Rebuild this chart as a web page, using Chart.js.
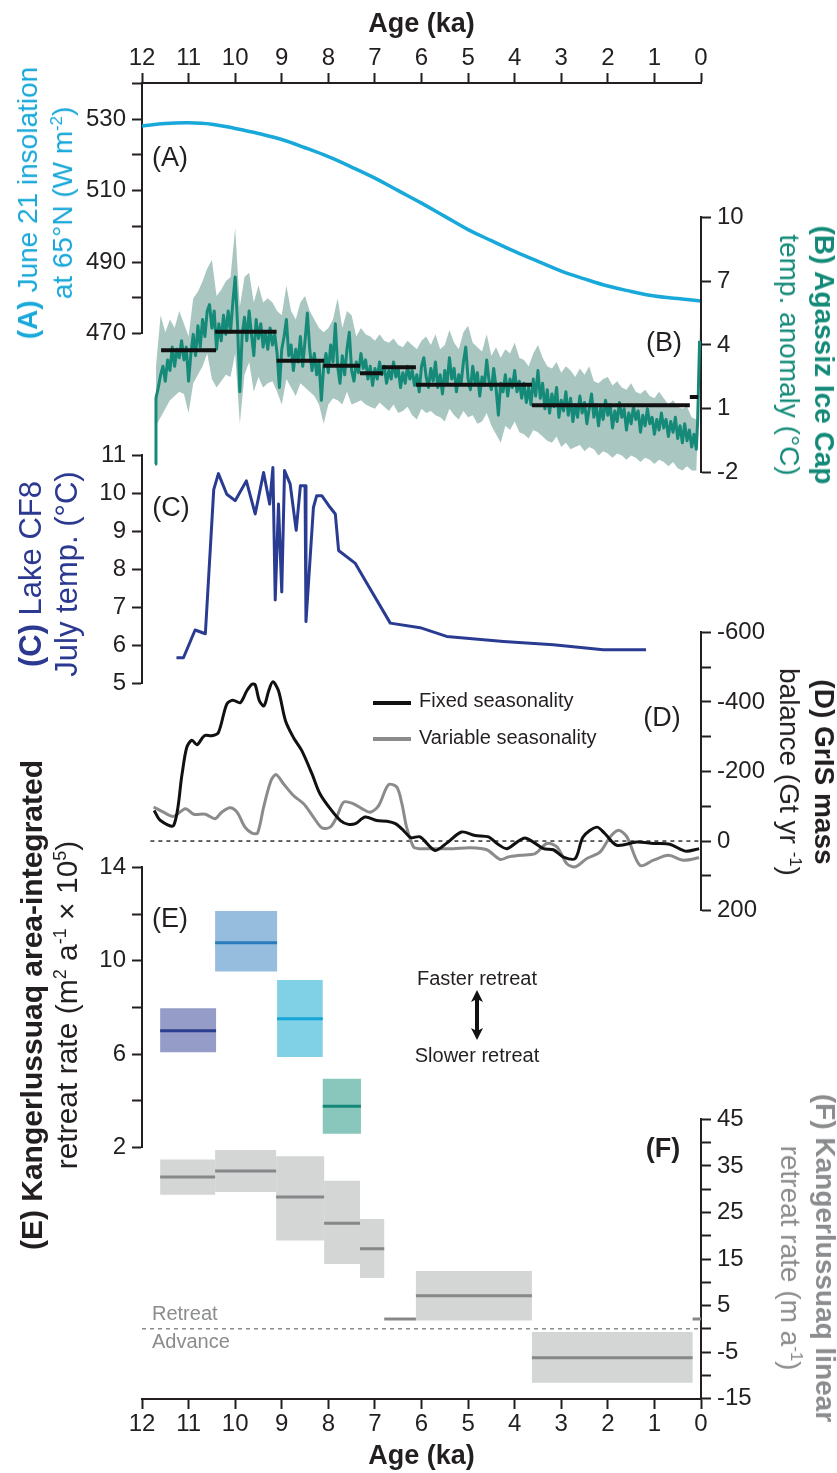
<!DOCTYPE html>
<html>
<head>
<meta charset="utf-8">
<script src="https://cdn.jsdelivr.net/npm/chart.js@4.4.1/dist/chart.umd.min.js"></script>
<style>
html, body { margin: 0; padding: 0; background: #fff; }
#wrap { position: relative; width: 837px; height: 1473px; overflow: hidden; font-family: "Liberation Sans", Arial, Helvetica, sans-serif; color: #231f20; }
#wrap canvas { position: absolute; left: 0; }
.t { position: absolute; white-space: nowrap; text-align: center; font-size: 28px; line-height: 35px; }
.t.l { transform: translate(-50%, -50%) rotate(-90deg); }
.t.r { transform: translate(-50%, -50%) rotate(90deg); }
.t sup, .note sup { font-size: 60%; line-height: 0; }
.lab { position: absolute; font-size: 27px; line-height: 1; transform: translate(-50%, -50%); white-space: nowrap; }
.note { position: absolute; font-size: 20px; line-height: 1; white-space: nowrap; }
.key { position: absolute; height: 4px; width: 38px; left: 373px; }
</style>
</head>
<body>
<div id="wrap">
	<canvas id="cFrame"></canvas>
	<canvas id="cA"></canvas>
	<canvas id="cB"></canvas>
	<canvas id="cC"></canvas>
	<canvas id="cD"></canvas>
	<canvas id="cE"></canvas>
	<canvas id="cF"></canvas>

	<div class="t l" style="left:45px;top:203px;color:#18a8d9"><b>(A)</b> June 21 insolation<br>at 65°N (W m<sup>-2</sup>)</div>
	<div class="t r" style="left:807px;top:355px;color:#138a78"><b>(B) Agassiz Ice Cap</b><br>temp. anomaly (°C)</div>
	<div class="t l" style="left:49px;top:574px;color:#2b3990;font-size:31px;line-height:36px"><b>(C)</b> Lake CF8<br>July temp. (°C)</div>
	<div class="t r" style="left:807px;top:772px"><b>(D) GrIS mass</b><br>balance (Gt yr <sup>-1</sup>)</div>
	<div class="t l" style="left:49px;top:1005px;font-size:30px"><b>(E) Kangerlussuaq area-integrated</b><br>retreat rate (m<sup>2</sup> a<sup>-1</sup> × 10<sup>5</sup>)</div>
	<div class="t r" style="left:808px;top:1258px;color:#8a8c8e"><b>(F) Kangerlussuaq linear</b><br>retreat rate (m a<sup>-1</sup>)</div>

	<div class="lab" style="left:170px;top:157px">(A)</div>
	<div class="lab" style="left:664px;top:342px">(B)</div>
	<div class="lab" style="left:171px;top:507px">(C)</div>
	<div class="lab" style="left:662px;top:717px">(D)</div>
	<div class="lab" style="left:170px;top:918px">(E)</div>
	<div class="lab" style="left:663px;top:1148px"><b>(F)</b></div>

	<div class="key" style="top:701px;background:#111"></div>
	<div class="key" style="top:737px;background:#8b8b8b"></div>
	<div class="note" style="left:419px;top:690px">Fixed seasonality</div>
	<div class="note" style="left:419px;top:727px">Variable seasonality</div>

	<div class="note" style="left:477px;top:978px;transform:translate(-50%,-50%)">Faster retreat</div>
	<div class="note" style="left:477px;top:1055px;transform:translate(-50%,-50%)">Slower retreat</div>
	<svg style="position:absolute;left:467px;top:990px" width="20" height="50">
		<line x1="10" y1="8" x2="10" y2="42" stroke="#111" stroke-width="4"/>
		<path d="M10 0 L16 12 L10 9 L4 12 Z" fill="#111"/>
		<path d="M10 50 L16 38 L10 41 L4 38 Z" fill="#111"/>
	</svg>

	<div class="note" style="left:152px;top:1303px;color:#8a8c8e">Retreat</div>
	<div class="note" style="left:152px;top:1331px;color:#8a8c8e">Advance</div>
</div>

<script>
// ---- (A) June 21 insolation at 65N ----
const insAge = [12, 11.5, 11, 10.5, 10, 9.5, 9, 8.5, 8, 7.5, 7, 6.5, 6, 5.5, 5, 4.5, 4, 3.5, 3, 2.5, 2, 1.5, 1, 0.5, 0];
const insVal = [528.1, 528.8, 529.0, 528.6, 527.4, 526.0, 524.3, 522.0, 519.5, 516.6, 513.5, 510.0, 506.5, 502.8, 499.1, 496.0, 493.0, 490.2, 487.5, 485.3, 483.3, 481.8, 480.5, 479.8, 479.1];

// ---- (B) Agassiz Ice Cap temperature anomaly ----
const bAge = [11.72, 11.70, 11.65, 11.60, 11.55, 11.50, 11.45, 11.40, 11.35, 11.30, 11.25, 11.20, 11.15, 11.10, 11.05, 11.00,
	10.95, 10.90, 10.85, 10.80, 10.75, 10.70, 10.65, 10.60, 10.55, 10.50, 10.45, 10.40, 10.35, 10.30, 10.25, 10.20, 10.15, 10.10, 10.05, 10.00,
	9.95, 9.90, 9.85, 9.80, 9.75, 9.70, 9.65, 9.60, 9.55, 9.50, 9.45, 9.40, 9.35, 9.30, 9.25, 9.20, 9.15, 9.10, 9.05, 9.00,
	8.95, 8.90, 8.85, 8.80, 8.75, 8.70, 8.65, 8.60, 8.55, 8.50, 8.45, 8.40, 8.35, 8.30, 8.25, 8.20, 8.15, 8.10, 8.05, 8.00,
	7.95, 7.90, 7.85, 7.80, 7.75, 7.70, 7.65, 7.60, 7.55, 7.50, 7.45, 7.40, 7.35, 7.30, 7.25, 7.20, 7.15, 7.10, 7.05, 7.00,
	6.95, 6.90, 6.85, 6.80, 6.75, 6.70, 6.65, 6.60, 6.55, 6.50, 6.45, 6.40, 6.35, 6.30, 6.25, 6.20, 6.15, 6.10, 6.05, 6.00,
	5.95, 5.90, 5.85, 5.80, 5.75, 5.70, 5.65, 5.60, 5.55, 5.50, 5.45, 5.40, 5.35, 5.30, 5.25, 5.20, 5.15, 5.10, 5.05, 5.00,
	4.95, 4.90, 4.85, 4.80, 4.75, 4.70, 4.65, 4.60, 4.55, 4.50, 4.45, 4.40, 4.35, 4.30, 4.25, 4.20, 4.15, 4.10, 4.05, 4.00,
	3.95, 3.90, 3.85, 3.80, 3.75, 3.70, 3.65, 3.60, 3.55, 3.50, 3.45, 3.40, 3.35, 3.30, 3.25, 3.20, 3.15, 3.10, 3.05, 3.00,
	2.95, 2.90, 2.85, 2.80, 2.75, 2.70, 2.65, 2.60, 2.55, 2.50, 2.45, 2.40, 2.35, 2.30, 2.25, 2.20, 2.15, 2.10, 2.05, 2.00,
	1.95, 1.90, 1.85, 1.80, 1.75, 1.70, 1.65, 1.60, 1.55, 1.50, 1.45, 1.40, 1.35, 1.30, 1.25, 1.20, 1.15, 1.10, 1.05, 1.00,
	0.95, 0.90, 0.85, 0.80, 0.75, 0.70, 0.65, 0.60, 0.55, 0.50, 0.45, 0.40, 0.35, 0.30, 0.25, 0.20, 0.15, 0.10, 0.07, 0.05, 0.03];
const bTemp = [-1.6, 1.5, 2.0, 2.6, 3.0, 2.3, 3.3, 2.8, 3.9, 3.0, 3.8, 3.4, 4.2, 3.3, 3.9, 2.3,
	3.6, 4.5, 3.5, 4.9, 3.9, 5.2, 4.4, 5.6, 5.9, 4.8, 5.6, 3.8, 5.0, 4.2, 5.4, 4.5, 5.6, 4.6, 6.0, 7.2,
	5.0, 1.8, 4.5, 5.3, 4.2, 5.6, 4.5, 3.5, 5.2, 4.3, 5.0, 3.9, 4.6, 3.8, 4.8, 4.0, 4.5, 3.6, 2.0, 3.8,
	4.4, 5.2, 3.5, 4.0, 2.8, 3.8, 3.2, 4.4, 3.0, 4.2, 5.5, 3.8, 2.8, 3.6, 2.6, 3.2, 1.4, 3.0, 3.6, 2.7,
	4.0, 3.2, 5.0, 3.0, 2.2, 3.5, 2.6, 3.8, 4.6, 2.8, 2.3, 3.2, 2.7, 3.6, 2.9, 3.3, 2.4, 3.0, 2.1, 2.9,
	2.4, 3.2, 2.6, 3.0, 2.2, 2.8, 2.4, 3.2, 2.5, 2.9, 2.0, 2.7, 2.2, 3.0, 2.4, 2.8, 2.1, 2.6, 1.8, 3.0,
	3.4, 2.5, 2.0, 2.9, 2.3, 3.2, 2.0, 2.6, 1.7, 2.8, 2.2, 3.4, 2.4, 2.9, 1.8, 2.6, 2.2, 3.2, 3.9, 2.4,
	1.9, 3.0, 2.2, 2.7, 1.6, 2.5, 2.1, 3.3, 2.3, 1.9, 2.9, 2.0, 0.7, 2.2, 1.8, 2.6, 1.6, 2.4, 2.0, 2.8,
	1.8, 2.3, 1.5, 2.2, 1.3, 2.0, 1.2, 2.4, 1.6, 2.8, 1.5, 2.2, 1.0, 1.9, 0.8, 1.7, 1.1, 2.0, 0.6, 1.4,
	0.9, 1.8, 0.7, 1.5, 0.4, 1.2, 0.6, 1.6, 0.8, 1.3, 0.3, 1.0, 1.7, 0.6, 1.2, 0.2, 1.1, 0.5, 1.4, 0.7,
	1.2, 0.1, 0.9, 0.4, 1.3, 0.6, 1.0, 0.0, 0.8, 0.3, 1.1, 0.5, 0.9, -0.1, 0.7, 0.2, 1.0, 0.3, 0.6, -0.2,
	0.5, 0.0, 0.8, 0.1, 0.5, -0.3, 0.4, -0.1, 0.6, -0.4, 0.2, -0.6, 0.3, -0.5, 0.0, -0.8, -0.2, -0.9, 0.5, 2.5, 4.2];
const bandAge = [11.72, 11.7, 11.6, 11.5, 11.4, 11.3, 11.2, 11.1, 11.0, 10.9, 10.8, 10.7, 10.6, 10.5, 10.4, 10.3, 10.2, 10.1, 10.0,
	9.9, 9.8, 9.7, 9.6, 9.5, 9.4, 9.3, 9.2, 9.1, 9.0, 8.9, 8.8, 8.7, 8.6, 8.5, 8.4, 8.3, 8.2, 8.1, 8.0,
	7.9, 7.8, 7.7, 7.6, 7.5, 7.4, 7.3, 7.2, 7.1, 7.0, 6.9, 6.8, 6.7, 6.6, 6.5, 6.4, 6.3, 6.2, 6.1, 6.0,
	5.9, 5.8, 5.7, 5.6, 5.5, 5.4, 5.3, 5.2, 5.1, 5.0, 4.9, 4.8, 4.7, 4.6, 4.5, 4.4, 4.3, 4.2, 4.1, 4.0,
	3.9, 3.8, 3.7, 3.6, 3.5, 3.4, 3.3, 3.2, 3.1, 3.0, 2.9, 2.8, 2.7, 2.6, 2.5, 2.4, 2.3, 2.2, 2.1, 2.0,
	1.9, 1.8, 1.7, 1.6, 1.5, 1.4, 1.3, 1.2, 1.1, 1.0, 0.9, 0.8, 0.7, 0.6, 0.5, 0.4, 0.3, 0.2, 0.1, 0.05, 0.03];
const bandHigh = [-1.2, 3.0, 5.4, 4.6, 5.2, 4.8, 5.6, 5.0, 4.4, 6.2, 6.5, 7.0, 7.6, 8.0, 6.3, 6.6, 7.0, 7.2, 9.5,
	5.8, 7.2, 7.4, 6.0, 6.8, 6.0, 6.2, 6.0, 5.6, 5.4, 6.8, 5.6, 5.2, 6.0, 6.3, 5.6, 5.2, 4.8, 4.6, 4.8,
	5.2, 6.2, 4.8, 5.6, 5.4, 4.4, 4.8, 4.5, 4.4, 4.2, 4.5, 4.2, 4.1, 4.3, 4.0, 3.9, 4.2, 4.0, 3.8, 4.2,
	4.4, 4.0, 4.5, 3.8, 4.0, 4.7, 4.1, 3.8, 4.6, 4.9, 4.1, 3.9, 3.7, 4.5, 3.5, 3.9, 3.4, 3.8, 3.6, 4.1,
	3.4, 3.3, 3.0, 3.6, 4.0, 3.4, 3.0, 2.9, 3.2, 2.7, 3.0, 2.8, 2.5, 2.9, 2.6, 3.0, 2.3, 2.2, 2.4, 2.5,
	2.1, 2.3, 2.0, 1.9, 2.2, 1.8, 1.7, 1.9, 1.6, 1.5, 1.8, 1.5, 1.2, 1.4, 1.1, 1.0, 1.1, 0.6, 0.5, 3.5, 5.0];
const bandLow = [-1.9, 0.2, 0.6, 1.0, 1.4, 1.6, 1.8, 1.7, 0.8, 2.2, 2.6, 3.0, 3.6, 2.4, 2.0, 2.3, 2.6, 2.5, 3.6,
	0.3, 2.6, 3.2, 1.8, 2.5, 2.0, 2.2, 2.3, 1.8, 1.2, 2.4, 2.0, 1.6, 2.2, 2.0, 1.8, 1.6, 1.2, 0.3, 1.2,
	1.5, 1.4, 1.2, 1.8, 1.2, 1.3, 1.4, 1.2, 1.1, 1.0, 1.3, 1.1, 0.9, 1.2, 0.8, 0.9, 1.1, 0.7, 0.5, 1.0,
	0.8, 0.9, 0.7, 0.6, 0.4, 1.0, 0.7, 0.5, 0.9, 0.6, 0.7, 0.3, 0.4, 0.8, 0.2, -0.2, -0.6, 0.2, 0.0, 0.4,
	-0.1, -0.2, -0.4, 0.0, -0.1, -0.3, -0.5, -0.6, -0.3, -0.8, -0.6, -0.9, -0.8, -0.7, -1.0, -0.8, -0.9, -1.2, -1.0, -1.1,
	-1.3, -1.1, -1.2, -1.4, -1.2, -1.3, -1.5, -1.3, -1.4, -1.6, -1.4, -1.5, -1.7, -1.5, -1.8, -1.9, -1.7, -1.9, -1.9, 1.5, 3.2];
// interval means (black bars)
const meanStart = [11.59, 10.43, 9.11, 8.11, 7.32, 6.85, 6.12, 3.63, 0.24];
const meanEnd = [10.41, 9.11, 8.09, 7.32, 6.83, 6.12, 3.63, 0.24, 0.06];
const meanVal = [3.75, 4.62, 3.26, 3.02, 2.67, 2.95, 2.13, 1.17, 1.55];

// ---- (C) Lake CF8 July temperature ----
const cAge = [11.26, 11.11, 10.86, 10.64, 10.46, 10.36, 10.18, 10.0, 9.76, 9.57, 9.39, 9.26, 9.19, 9.14, 9.07, 9.0, 8.94, 8.82, 8.69,
	8.6, 8.5, 8.48, 8.32, 8.25, 8.14, 7.96, 7.85, 7.78, 7.42, 7.17, 6.67, 6.03, 5.46, 4.24, 3.17, 2.1, 1.18];
const cTemp = [5.68, 5.68, 6.41, 6.31, 10.1, 10.52, 9.98, 9.81, 10.33, 9.46, 10.55, 9.72, 10.68, 7.2, 9.72, 7.41, 10.6, 10.25, 9.03,
	10.2, 10.2, 6.63, 9.63, 9.94, 9.94, 9.63, 9.46, 8.5, 8.16, 7.63, 6.59, 6.47, 6.24, 6.11, 6.02, 5.89, 5.89];

// ---- (D) GrIS mass balance ----
const dFixedAge = [11.74, 11.61, 11.32, 11.14, 11.04, 10.93, 10.82, 10.66, 10.50, 10.36, 10.18, 10.05, 9.89, 9.75, 9.64, 9.57, 9.48, 9.38, 9.28, 9.19,
	9.07, 8.92, 8.75, 8.57, 8.35, 8.18, 7.96, 7.74, 7.57, 7.42, 7.21, 6.96, 6.74, 6.56, 6.39, 6.23, 6.03, 5.71, 5.46, 5.14,
	4.85, 4.56, 4.38, 4.17, 3.95, 3.78, 3.60, 3.38, 3.17, 2.95, 2.70, 2.53, 2.24, 2.06, 1.81, 1.38, 1.02, 0.67, 0.34, 0.04];
const dFixed = [-88, -60, -45, -193, -269, -290, -277, -303, -303, -312, -394, -405, -398, -432, -451, -449, -403, -389, -432, -458,
	-432, -346, -298, -260, -193, -136, -93, -59, -48, -50, -69, -59, -57, -50, -31, -10, -12, 27, 6, -26,
	-16, -12, 7, 22, 3, -9, 3, 22, 25, 46, 50, -12, -40, -21, 12, 3, 7, 9, 29, 22];
const dVarAge = [11.75, 11.54, 11.32, 11.07, 10.89, 10.64, 10.43, 10.29, 10.11, 9.96, 9.79, 9.64, 9.52, 9.39, 9.23, 9.12, 8.96, 8.75, 8.53, 8.32,
	8.14, 7.96, 7.82, 7.67, 7.46, 7.28, 7.10, 6.92, 6.71, 6.53, 6.42, 6.32, 6.17, 6.03, 5.67, 5.32, 4.96, 4.60, 4.31, 4.14,
	3.88, 3.56, 3.31, 3.09, 2.88, 2.70, 2.45, 2.17, 1.95, 1.77, 1.59, 1.31, 1.02, 0.70, 0.38, 0.04];
const dVariable = [-98, -83, -71, -93, -77, -77, -64, -83, -96, -83, -40, -23, -23, -97, -174, -191, -164, -131, -107, -69,
	-38, -40, -69, -112, -107, -93, -83, -102, -162, -155, -107, -40, 17, 22, 22, 22, 19, 25, 53, 46,
	41, 36, 7, 17, 65, 74, 50, 32, -12, -31, -12, 70, 55, 41, 55, 48];

// ---- (E) area-integrated retreat rate ----
const eStart = [11.61, 10.43, 9.10, 8.12];
const eEnd = [10.41, 9.10, 8.12, 7.30];
const eLow = [6.08, 9.54, 5.88, 2.59];
const eHigh = [7.97, 12.13, 9.18, 4.95];
const eMid = [7.0, 10.77, 7.52, 3.77];

// ---- (F) linear retreat rate ----
const fStart = [11.61, 10.43, 9.12, 8.09, 7.32, 6.80, 6.12, 3.63, 0.18];
const fEnd = [10.43, 9.12, 8.09, 7.32, 6.80, 6.12, 3.63, 0.18, 0.0];
const fLow = [28.8, 29.4, 19.0, 13.9, 10.9, 2.1, 1.8, -11.6, 2.1];
const fHigh = [36.4, 38.4, 37.1, 31.8, 23.6, 2.1, 12.4, -0.7, 2.1];
const fMid = [32.6, 33.9, 28.3, 22.7, 17.2, 2.1, 7.1, -6.2, 2.1];

// styles
const ink = '#231f20';
const eFill = ['#959cc8', '#96bddd', '#80d0e6', '#89c6bc'];
const eLine = ['#2b3d8f', '#2b7bbb', '#13a6d6', '#14897a'];

Chart.defaults.font.family = '"Liberation Sans", Arial, Helvetica, sans-serif';
Chart.defaults.color = ink;

const W = 837, LEFT = 142, RIGHT = 136;   // plot area runs from x=142 to x=701

function pts(xs, ys) {
	return xs.map((x, i) => ({ x: x, y: ys[i] }));
}

function line(xs, ys, color, width, extra) {
	return Object.assign({ data: pts(xs, ys), borderColor: color, borderWidth: width, pointRadius: 0, tension: 0, fill: false }, extra || {});
}

function box(s, e, lo, hi, color) {
	return {
		data: [{ x: s, y: lo }, { x: s, y: hi }, { x: e, y: hi }, { x: e, y: lo }, { x: s, y: lo }],
		borderWidth: 0, borderColor: 'rgba(0,0,0,0)', backgroundColor: color, fill: 'shape', pointRadius: 0, tension: 0
	};
}

function ageAxis() {
	return { type: 'linear', min: 0, max: 12, reverse: true, display: false };
}

function valueAxis(side, min, max, step, shown, rev) {
	return {
		type: 'linear', position: side, min: min, max: max, reverse: !!rev,
		afterFit: function (s) { s.width = side === 'left' ? LEFT : RIGHT; },
		border: { display: true, color: ink, width: 2 },
		grid: { drawOnChartArea: false, drawTicks: true, tickLength: 10, tickWidth: 2, tickColor: ink },
		ticks: {
			stepSize: step, autoSkip: false, maxRotation: 0, padding: 6, color: ink, font: { size: 24 },
			callback: function (v) { return shown.indexOf(v) >= 0 ? String(v) : ''; }
		}
	};
}

function panel(id, top, height, side, yAxis, datasets) {
	const cv = document.getElementById(id);
	cv.width = W; cv.height = height; cv.style.top = top + 'px';
	return new Chart(cv, {
		type: 'line',
		data: { datasets: datasets },
		options: {
			responsive: false, animation: false, events: [],
			layout: { padding: { top: 20, bottom: 20, left: side === 'left' ? 0 : LEFT, right: side === 'left' ? RIGHT : 0 } },
			plugins: { legend: { display: false }, tooltip: { enabled: false } },
			elements: { point: { radius: 0 }, line: { borderJoinStyle: 'round' } },
			scales: { x: ageAxis(), y: yAxis }
		}
	});
}

// shared age axes, top and bottom
function ageTicks(pos) {
	return {
		type: 'linear', position: pos, min: 0, max: 12, reverse: true,
		afterFit: function (s) { s.height = pos === 'top' ? 83 : 74; },
		border: { display: true, color: ink, width: 2 },
		grid: { drawOnChartArea: false, drawTicks: true, tickLength: 10, tickWidth: 2, tickColor: ink },
		ticks: { stepSize: 1, autoSkip: false, maxRotation: 0, padding: pos === 'top' ? 0 : 1, color: ink, font: { size: 24 } },
		title: { display: true, text: 'Age (ka)', color: ink, font: { size: 27, weight: 'bold' }, padding: pos === 'top' ? { top: 8, bottom: 0 } : { top: 0, bottom: 0 } }
	};
}

const fr = document.getElementById('cFrame');
fr.width = W; fr.height = 1473; fr.style.top = '0px';
new Chart(fr, {
	type: 'line',
	data: { datasets: [] },
	options: {
		responsive: false, animation: false, events: [],
		layout: { padding: { left: LEFT, right: RIGHT, top: 0, bottom: 0 } },
		plugins: { legend: { display: false }, tooltip: { enabled: false } },
		scales: { xTop: ageTicks('top'), x: ageTicks('bottom'), y: { display: false } }
	}
});

// (A)
panel('cA', 63, 291, 'left', valueAxis('left', 470, 540, 10, [470, 490, 510, 530]), [
	line(insAge, insVal, '#18a8d9', 3.5, { tension: 0.4 })
]);

// (B) means on top, then the record, then its envelope
const bandPoly = pts(bandAge, bandHigh).concat(pts(bandAge, bandLow).reverse());
const bSets = meanStart.map((s, i) => line([s, meanEnd[i]], [meanVal[i], meanVal[i]], '#111', 4));
bSets.push(line(bAge, bTemp, '#168a78', 3));
bSets.push({ data: bandPoly, borderWidth: 0, borderColor: 'rgba(0,0,0,0)', backgroundColor: '#a9c6c0', fill: 'shape', pointRadius: 0, tension: 0 });
panel('cB', 197, 296, 'right', valueAxis('right', -2, 10, 3, [-2, 1, 4, 7, 10]), bSets);

// (C)
panel('cC', 435, 269, 'left', valueAxis('left', 5, 11, 1, [5, 6, 7, 8, 9, 10, 11]), [
	line(cAge, cTemp, '#2a3c92', 3)
]);

// (D)
panel('cD', 612, 319, 'right', valueAxis('right', -600, 200, 100, [-600, -400, -200, 0, 200], true), [
	line(dFixedAge, dFixed, '#111', 3, { tension: 0.3 }),
	line(dVarAge, dVariable, '#8b8b8b', 3, { tension: 0.3 }),
	line([11.82, 0], [0, 0], '#333', 1.5, { borderDash: [4, 4] })
]);

// (E)
const eSets = eStart.map((s, i) => line([s, eEnd[i]], [eMid[i], eMid[i]], eLine[i], 3));
eStart.forEach((s, i) => eSets.push(box(s, eEnd[i], eLow[i], eHigh[i], eFill[i])));
panel('cE', 847, 321, 'left', valueAxis('left', 2, 14, 2, [2, 6, 10, 14]), eSets);

// (F)
const fSets = fStart.map((s, i) => line([s, fEnd[i]], [fMid[i], fMid[i]], '#858789', 3));
fSets.push(line([12, 0], [0, 0], '#8a8c8e', 1.5, { borderDash: [4, 4] }));
fStart.forEach((s, i) => fSets.push(box(s, fEnd[i], fLow[i], fHigh[i], '#d4d5d5')));
panel('cF', 1099, 320, 'right', valueAxis('right', -15, 45, 5, [-15, -5, 5, 15, 25, 35, 45]), fSets);
</script>
</body>
</html>
